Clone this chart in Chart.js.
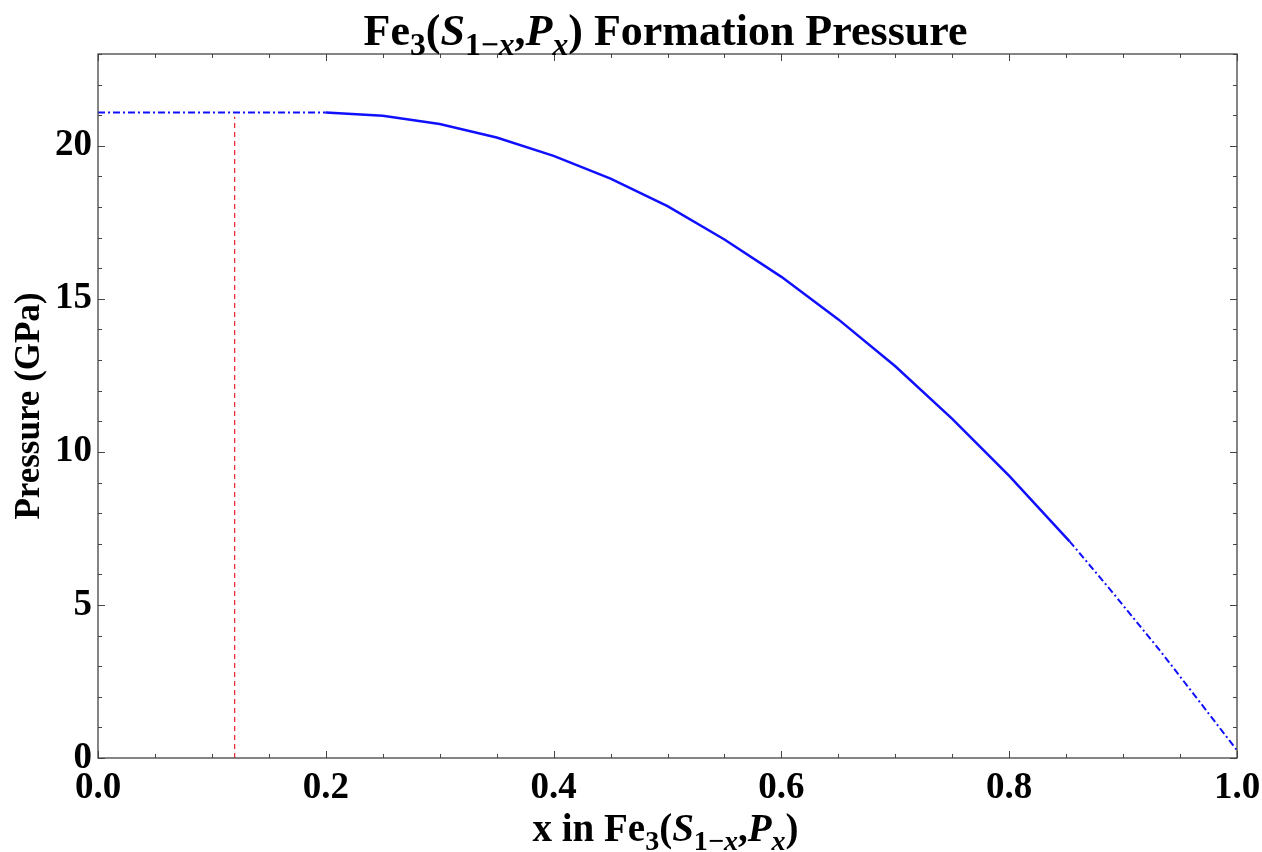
<!DOCTYPE html>
<html>
<head>
<meta charset="utf-8">
<script src="https://cdn.jsdelivr.net/npm/chart.js@4/dist/chart.umd.min.js"></script>
<style>
  html, body { margin: 0; padding: 0; background: #fff; }
  #wrap { width: 1262px; height: 852px; }
</style>
</head>
<body>
<div id="wrap"><canvas id="pChart"></canvas></div>
<script>
// values
const flatX = [0, 0.2];
const flatP = [21.09, 21.09];

const curveX = [0.2, 0.25, 0.3, 0.35, 0.4, 0.45, 0.5, 0.55, 0.6, 0.65, 0.7, 0.75, 0.8, 0.853];
const curveP = [21.09, 20.98, 20.71, 20.27, 19.67, 18.93, 18.03, 16.94, 15.72, 14.33, 12.8, 11.08, 9.22, 7.08];

const tailX = [0.853, 0.8885, 0.9324, 0.975, 1.0];
const tailP = [7.08, 5.51, 3.51, 1.46, 0.25];

const markX = [0.12, 0.12];
const markP = [0, 20.95];

const xTicks = [0, 0.2, 0.4, 0.6, 0.8, 1.0];
const yTicks = [0, 5, 10, 15, 20];

// title pieces (subscripts / italics)
const titleSegs = [
  {t: 'Fe'}, {t: '3', sub: true}, {t: '('}, {t: 'S', it: true},
  {t: '1', sub: true}, {t: '\u2212', sub: true}, {t: 'x', sub: true, it: true},
  {t: ','}, {t: 'P', it: true}, {t: 'x', sub: true, it: true}, {t: ')'},
  {t: ' Formation Pressure'}
];
const xTitleSegs = [
  {t: 'x in Fe'}, {t: '3', sub: true}, {t: '('}, {t: 'S', it: true},
  {t: '1', sub: true}, {t: '\u2212', sub: true}, {t: 'x', sub: true, it: true},
  {t: ','}, {t: 'P', it: true}, {t: 'x', sub: true, it: true}, {t: ')'}
];

const FONT = '"Liberation Serif", "Times New Roman", serif';

function pts(xs, ys) { return xs.map((x, i) => ({x: x, y: ys[i]})); }

function segFont(s, size) {
  const sz = s.sub ? size * 0.72 : size;
  return (s.it ? 'italic ' : '') + 'bold ' + sz + 'px ' + FONT;
}

function drawRich(ctx, segs, cx, baseY, size) {
  let w = 0;
  segs.forEach(s => { ctx.font = segFont(s, size); w += ctx.measureText(s.t).width; });
  let x = cx - w / 2;
  ctx.textBaseline = 'alphabetic';
  ctx.textAlign = 'left';
  ctx.fillStyle = '#000';
  segs.forEach(s => {
    ctx.font = segFont(s, size);
    ctx.fillText(s.t, x, baseY + (s.sub ? size * 0.22 : 0));
    x += ctx.measureText(s.t).width;
  });
}

// frame with inward ticks, plus rich titles
const framePlugin = {
  id: 'frame',
  afterDraw(chart) {
    const {ctx, chartArea: a, scales} = chart;
    const xs = scales.x, ys = scales.y;
    ctx.save();
    ctx.strokeStyle = '#444';
    ctx.lineWidth = 1.3;
    ctx.strokeRect(a.left, a.top, a.right - a.left, a.bottom - a.top);
    ctx.lineWidth = 1;
    ctx.beginPath();
    for (let i = 0; i <= 20; i++) {
      const v = i * 0.05;
      const px = Math.round(xs.getPixelForValue(v)) + 0.5;
      const len = (i % 4 === 0) ? 7 : 4;
      ctx.moveTo(px, a.bottom); ctx.lineTo(px, a.bottom - len);
      ctx.moveTo(px, a.top); ctx.lineTo(px, a.top + len);
    }
    for (let v = 0; v <= 23; v++) {
      const py = Math.round(ys.getPixelForValue(v)) + 0.5;
      const len = (v % 5 === 0) ? 7 : 4;
      ctx.moveTo(a.left, py); ctx.lineTo(a.left + len, py);
      ctx.moveTo(a.right, py); ctx.lineTo(a.right - len, py);
    }
    ctx.stroke();

    const cx = (a.left + a.right) / 2 - 2;
    drawRich(ctx, titleSegs, cx, 45, 44);
    drawRich(ctx, xTitleSegs, cx, 841, 39);
    ctx.restore();
  }
};

const blue = '#1010ff';

new Chart(document.getElementById('pChart'), {
  type: 'scatter',
  data: {
    datasets: [
      {data: pts(flatX, flatP), showLine: true, borderColor: blue, borderWidth: 2,
       borderDash: [7, 3, 2, 3], pointRadius: 0},
      {data: pts(curveX, curveP), showLine: true, borderColor: blue, borderWidth: 2.5,
       tension: 0, pointRadius: 0},
      {data: pts(tailX, tailP), showLine: true, borderColor: blue, borderWidth: 2,
       borderDash: [7, 3, 2, 3], pointRadius: 0},
      {data: pts(markX, markP), showLine: true, borderColor: '#e8202a', borderWidth: 1.2,
       borderDash: [5, 4], pointRadius: 0}
    ]
  },
  options: {
    responsive: true,
    maintainAspectRatio: false,
    animation: false,
    layout: {padding: 0},
    plugins: {legend: {display: false}, tooltip: {enabled: false}, title: {display: false}},
    scales: {
      x: {
        type: 'linear', position: 'bottom', min: 0, max: 1,
        afterBuildTicks: s => { s.ticks = xTicks.map(v => ({value: v})); },
        afterFit: s => { s.height = 94; s.paddingLeft = 0; s.paddingRight = 0; },
        grid: {display: false, drawTicks: false},
        border: {display: false},
        ticks: {padding: 8, color: '#000', maxRotation: 0,
                font: {family: FONT, size: 37, weight: 'bold'},
                callback: v => v.toFixed(1)}
      },
      x2: {
        type: 'linear', position: 'top', min: 0, max: 1,
        afterFit: s => { s.height = 54; },
        grid: {display: false, drawTicks: false},
        border: {display: false},
        ticks: {display: false}
      },
      y: {
        type: 'linear', position: 'left', min: 0, max: 23,
        afterBuildTicks: s => { s.ticks = yTicks.map(v => ({value: v})); },
        afterFit: s => { s.width = 98; s.paddingTop = 0; s.paddingBottom = 0; },
        grid: {display: false, drawTicks: false},
        border: {display: false},
        ticks: {padding: 6, color: '#000',
                font: {family: FONT, size: 37, weight: 'bold'},
                callback: v => String(v)},
        title: {display: true, text: 'Pressure (GPa)', color: '#000',
                padding: {top: 9, bottom: 0},
                font: {family: FONT, size: 35, weight: 'bold'}}
      },
      y2: {
        type: 'linear', position: 'right', min: 0, max: 23,
        afterFit: s => { s.width = 25; },
        grid: {display: false, drawTicks: false},
        border: {display: false},
        ticks: {display: false}
      }
    }
  },
  plugins: [framePlugin]
});
</script>
</body>
</html>
